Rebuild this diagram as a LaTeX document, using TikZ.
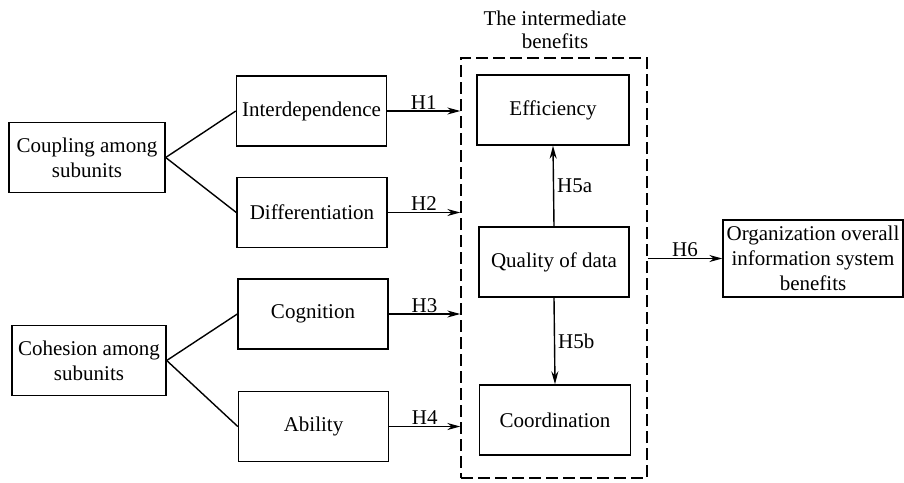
\documentclass[tikz,border=0pt]{standalone}
\usepackage{fontspec}
\setmainfont{Liberation Serif}
\usetikzlibrary{arrows.meta}
\begin{document}
\begin{tikzpicture}[x=1pt,y=-1pt,
  box/.style={draw,line width=1.4pt,inner sep=0pt,align=center,
    minimum width=150pt,minimum height=70pt,
    font=\fontsize{21}{25}\selectfont},
  conn/.style={line width=1.4pt},
  arr/.style={line width=1.4pt,-{Stealth[length=13pt,width=7pt]}},
  lab/.style={font=\fontsize{21}{25}\selectfont,inner sep=1pt},
  grp/.style={draw,line width=1.4pt,dash pattern=on 12pt off 5pt,inner sep=0pt}]
\useasboundingbox (0,0) rectangle (904,482);
\node[box,minimum width=156pt] (coup) at (87,157.5) {Coupling among\\subunits};
\node[box] (inter) at (311.5,111) {Interdependence};
\node[box] (diff) at (312,212.5) {Differentiation};
\node[box,minimum width=154pt] (coh) at (89,360.5) {Cohesion among\\subunits};
\node[box] (cog) at (313,314) {Cognition};
\node[box] (abil) at (313.5,426.5) {Ability};
\node[box,minimum width=152pt] (eff) at (553,110) {Efficiency};
\node[box] (qual) at (554,262) {Quality of data};
\node[box,minimum width=151pt] (coord) at (555,420) {Coordination};
\node[box,minimum width=180pt,minimum height=77pt,font=\fontsize{21}{25}\selectfont] (org) at (813,258.5) {Organization overall\\information system\\benefits};
\node[grp,minimum width=186pt,minimum height=420pt] (grpbox) at (554,268) {};
\node[lab,align=center,font=\fontsize{21}{23}\selectfont] (title) at (555,30) {The intermediate\\benefits};
\draw[conn] (coup.east) -- (inter.west);
\draw[conn] (coup.east) -- (diff.west);
\draw[conn] (coh.east) -- (cog.west);
\draw[conn] (coh.east) -- (abil.west);
\draw[arr] (inter.east) -- (inter.east -| grpbox.west) node[lab,midway,above] {H1};
\draw[arr] (diff.east) -- (diff.east -| grpbox.west) node[lab,midway,above] {H2};
\draw[arr] (cog.east) -- (cog.east -| grpbox.west) node[lab,midway,above] {H3};
\draw[arr] (abil.east) -- (abil.east -| grpbox.west) node[lab,midway,above] {H4};
\draw[arr] (qual.north) -- (eff.south) node[lab,midway,right,xshift=2pt] {H5a};
\draw[arr] (qual.south) -- (coord.north) node[lab,midway,right,xshift=2pt] {H5b};
\draw[arr] (grpbox.east |- org.west) -- (org.west) node[lab,midway,above] {H6};
\end{tikzpicture}
\end{document}
